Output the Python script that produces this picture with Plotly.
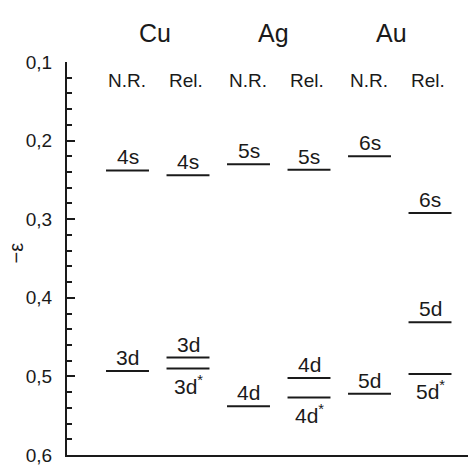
import plotly.graph_objects as go

# ---- data ----
elements = ["Cu", "Ag", "Au"]
columns = ["N.R.", "Rel.", "N.R.", "Rel.", "N.R.", "Rel."]
s_labels = ["4s", "4s", "5s", "5s", "6s", "6s"]
s_values = [0.238, 0.244, 0.230, 0.237, 0.220, 0.292]
d_labels = ["3d", "3d", "4d", "4d", "5d", "5d"]
d_values = [0.493, 0.476, 0.538, 0.502, 0.522, 0.431]
dstar_labels = [None, "3d<sup>*</sup>", None, "4d<sup>*</sup>", None, "5d<sup>*</sup>"]
dstar_values = [None, 0.490, None, 0.527, None, 0.497]
y_ticks = [0.1, 0.2, 0.3, 0.4, 0.5, 0.6]

FONT = "Liberation Sans, Arial, sans-serif"
INK = "#1a1a1a"
HW = 0.355  # half width of a level line in column units

xpos = list(range(1, len(columns) + 1))

fig = go.Figure()

def add_levels(values):
    xs, ys = [], []
    for c, v in zip(xpos, values):
        if v is None:
            continue
        xs += [c - HW, c + HW, None]
        ys += [v, v, None]
    fig.add_trace(go.Scatter(x=xs, y=ys, mode="lines",
                             line=dict(color=INK, width=2),
                             hoverinfo="skip", showlegend=False))

add_levels(s_values)
add_levels(d_values)
add_levels(dstar_values)

LBL = 21
ann = []
for c, lab, v in zip(xpos, s_labels, s_values):
    ann.append(dict(x=c, y=v, xref="x", yref="y", text=lab, showarrow=False,
                    yanchor="bottom", xanchor="center", yshift=0,
                    font=dict(size=LBL, family=FONT, color=INK)))
for c, lab, v in zip(xpos, d_labels, d_values):
    ann.append(dict(x=c, y=v, xref="x", yref="y", text=lab, showarrow=False,
                    yanchor="bottom", xanchor="center", yshift=0,
                    font=dict(size=LBL, family=FONT, color=INK)))
for c, lab, v in zip(xpos, dstar_labels, dstar_values):
    if v is None:
        continue
    ann.append(dict(x=c, y=v, xref="x", yref="y", text=lab, showarrow=False,
                    yanchor="top", xanchor="center", yshift=-1,
                    font=dict(size=LBL, family=FONT, color=INK)))
for c, lab in zip(xpos, columns):
    ann.append(dict(x=c - HW, y=0.1, xref="x", yref="y", text=lab, showarrow=False,
                    yanchor="top", xanchor="left", yshift=-6,
                    font=dict(size=19, family=FONT, color=INK)))
for i, el in enumerate(elements):
    ann.append(dict(x=2 * i + 1.45 - 0.04 * i, y=1.074, xref="x", yref="paper",
                    text=el, showarrow=False, yanchor="middle", xanchor="center",
                    font=dict(size=25, family=FONT, color=INK)))
ann.append(dict(x=-0.16, y=0.515, xref="paper", yref="paper", text="\u2212\u03b5",
                showarrow=False, textangle=-90,
                font=dict(size=20, family=FONT, color=INK)))

fig.update_layout(
    width=468, height=467,
    margin=dict(l=67, r=0, t=62, b=12),
    paper_bgcolor="white", plot_bgcolor="white",
    separators=",.",
    annotations=ann,
    xaxis=dict(range=[0, 6.628], showgrid=False, zeroline=False,
               showticklabels=False, ticks="", showline=True,
               linecolor=INK, linewidth=2, fixedrange=True),
    yaxis=dict(range=[0.6, 0.1], showgrid=False, zeroline=False,
               tickvals=y_ticks, tickformat=".1f", ticks="inside",
               ticklen=8, tickwidth=2, tickcolor=INK,
               showline=True, linecolor=INK, linewidth=2,
               ticklabelstandoff=9,
               tickfont=dict(size=19, family=FONT, color=INK),
               minor=dict(dtick=0.02, tick0=0.1, ticks="inside", ticklen=5,
                          tickwidth=2, tickcolor=INK),
               fixedrange=True),
    showlegend=False,
)

fig.write_html("out.html")
